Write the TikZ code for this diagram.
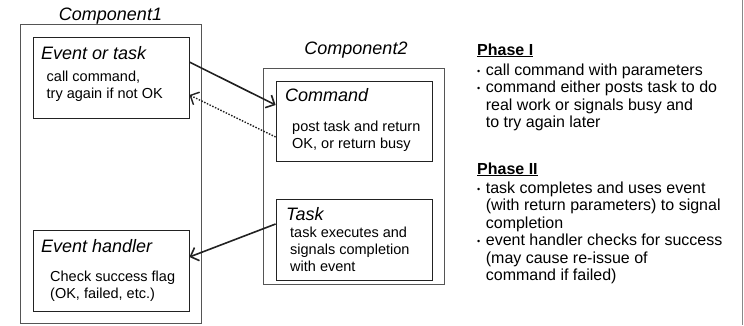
\documentclass[tikz,border=0pt]{standalone}
\usepackage{fontspec}
\setmainfont{Liberation Sans}
\usetikzlibrary{arrows.meta,positioning}
\definecolor{frame}{HTML}{555555}
\definecolor{edge}{HTML}{222222}
\newcommand\dotmark{\raisebox{1pt}{\fontsize{9}{9}\selectfont\textbullet}}
\newcommand\lines[1]{\begin{tabular}[t]{@{}l@{}}#1\end{tabular}}

\begin{document}
\begin{tikzpicture}[x=1pt,y=-1pt,>={Straight Barb[length=7pt,width=14pt]},
  comp/.style={draw=frame,line width=1pt,minimum width=181pt,inner sep=0pt},
  part/.style={draw=edge,line width=0.8pt,minimum width=156pt,minimum height=81pt,inner sep=0pt},
  cname/.style={font=\fontsize{18}{20}\selectfont\itshape,anchor=base,inner sep=0pt},
  ptitle/.style={font=\fontsize{18}{20}\selectfont\itshape,anchor=base west,inner sep=0pt},
  pbody/.style={font=\fontsize{14.5}{17}\selectfont,anchor=base west,inner sep=0pt},
  note/.style={font=\fontsize{16}{17.5}\selectfont,anchor=base west,inner sep=0pt},
  flow/.style={line width=1.6pt,edge}]
\useasboundingbox (0,0) rectangle (744,325);
\draw[frame!70,line width=0.8pt] (742,0) -- (742,325);

% component 1
\node[comp,minimum height=299pt] (c1) at (110.5,173.5) {};
\node[cname] (c1name) at (110.5,20) {Component1};
\node[part] (evt) at (111,77.5) {};
\node[ptitle] (evttitle) at (41,59) {Event or task};
\node[pbody] (evtbody) at (46.5,81) {\lines{call command,\\try again if not OK}};
\node[part] (hdl) at (111,270.5) {};
\node[ptitle] (hdltitle) at (41,252) {Event handler};
\node[pbody] (hdlbody) at (50,281) {\lines{Check success flag\\(OK, failed, etc.)}};

% component 2
\node[comp,minimum height=216pt] (c2) at (353.5,176) {};
\node[cname] (c2name) at (356,54) {Component2};
\node[part,minimum height=80pt] (cmd) at (354,121) {};
\node[ptitle] (cmdtitle) at (285,101) {Command};
\node[pbody] (cmdbody) at (292,131) {\lines{post task and return\\OK, or return busy}};
\node[part] (tsk) at (354,239.5) {};
\node[ptitle] (tsktitle) at (286,220) {Task};
\node[pbody] (tskbody) at (290,237) {\lines{task executes and\\signals completion\\with event}};

% calls
\draw[->,flow] ([yshift=15.5pt]evt.east) -- ([yshift=16pt]cmd.west);
\draw[->,line width=1.4pt,edge,dash pattern=on 1.5pt off 1.5pt] ([yshift=-16pt]cmd.west) -- ([yshift=-17.5pt]evt.east);
\draw[->,flow] ([yshift=15.5pt]tsk.west) -- ([yshift=13.5pt]hdl.east);

% phases
\node[note] (ph1) at (477,55) {\underline{\textbf{Phase I}}};
\node[note] (ph1list) at (477,75) {\begin{tabular}[t]{@{}l@{\hspace{5.5pt}}l@{}}
  \dotmark & call command with parameters\\
  \dotmark & command either posts task to do\\
  & real work or signals busy and\\
  & to try again later\end{tabular}};
\node[note] (ph2) at (477,174) {\underline{\textbf{Phase II}}};
\node[note] (ph2list) at (477,193) {\begin{tabular}[t]{@{}l@{\hspace{5.5pt}}l@{}}
  \dotmark & task completes and uses event\\
  & (with return parameters) to signal\\
  & completion\\
  \dotmark & event handler checks for success\\
  & (may cause re-issue of\\
  & command if failed)\end{tabular}};
\end{tikzpicture}
\end{document}
